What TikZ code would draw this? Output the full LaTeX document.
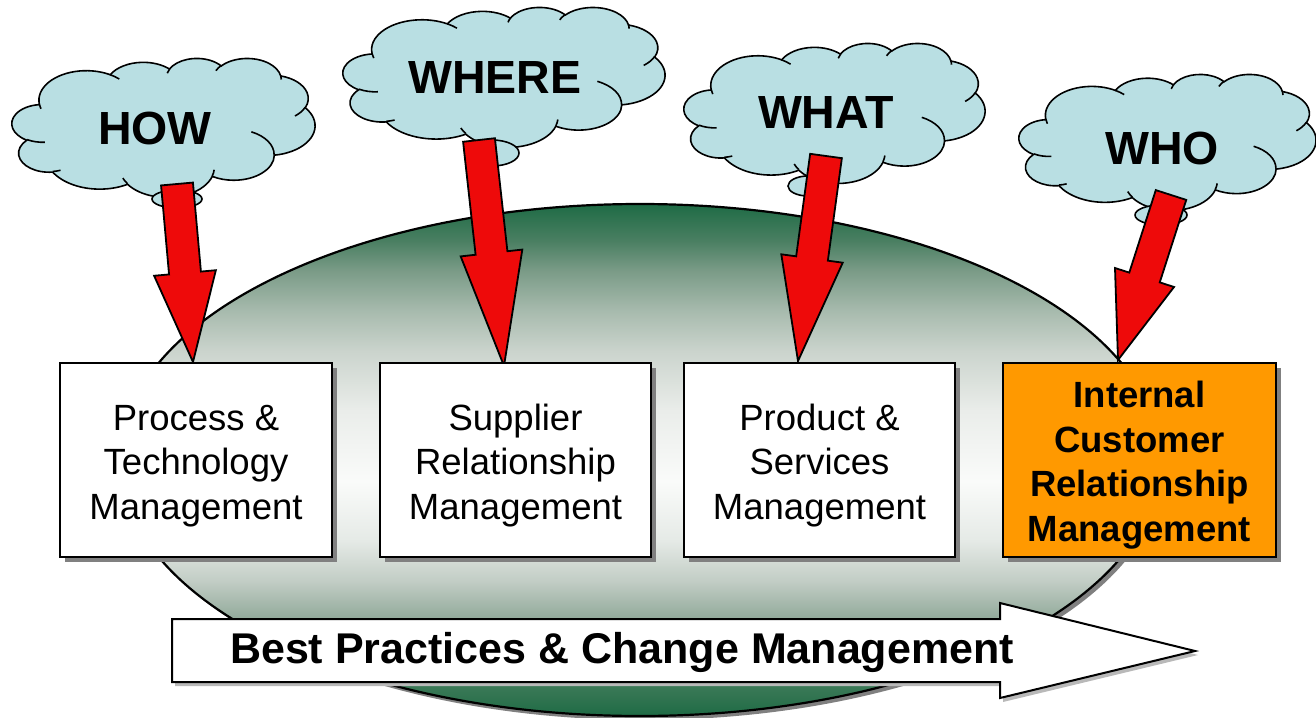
\documentclass[tikz,border=0pt]{standalone}
\usepackage{fontspec}
\setmainfont{Liberation Sans}
\usetikzlibrary{calc,shadows}

\definecolor{cloudblue}{HTML}{B9DFE3}
\definecolor{arrowred}{HTML}{EE0A0A}
\definecolor{boxorange}{HTML}{FF9900}
\definecolor{shadowgray}{HTML}{808080}
% stops of the oval's vertical gradient, bottom to top
\definecolor{ovA}{HTML}{1E6B45}
\definecolor{ovB}{HTML}{4A8060}
\definecolor{ovC}{HTML}{8FA898}
\definecolor{ovD}{HTML}{C2CDC5}
\definecolor{ovE}{HTML}{E5EAE6}
\definecolor{ovF}{HTML}{FAFBFA}
\definecolor{ovG}{HTML}{EAEDEA}
\definecolor{ovH}{HTML}{CBD4CD}
\definecolor{ovI}{HTML}{A8BBAE}
\definecolor{ovJ}{HTML}{7A9B87}
\definecolor{ovK}{HTML}{4A7F62}

\pgfdeclareverticalshading{ovalshade}{100bp}{%
  color(0bp)=(ovA); color(25bp)=(ovA); color(29.4bp)=(ovB);
  color(34.3bp)=(ovC); color(38.2bp)=(ovD); color(42.1bp)=(ovE);
  color(47.9bp)=(ovF); color(54.8bp)=(ovG); color(60.6bp)=(ovH);
  color(64.5bp)=(ovI); color(68.5bp)=(ovJ); color(71.4bp)=(ovK);
  color(75bp)=(ovA); color(100bp)=(ovA)}

\tikzset{
  cloudline/.style={draw=black, line width=1.6pt},
  bubble/.style={draw=black, line width=1.6pt, fill=cloudblue},
  cloudtext/.style={font=\bfseries\fontsize{46.5}{50}\selectfont},
  redarrow/.style={draw=black, line width=1.8pt, fill=arrowred, line join=miter},
  areabox/.style={draw=black, line width=2pt, minimum width=271pt, minimum height=194pt,
    align=center, inner sep=0pt,
    drop shadow={shadow xshift=5pt, shadow yshift=-5pt, fill=shadowgray, opacity=1}},
  plainbox/.style={areabox, fill=white, font=\fontsize{36.5}{44.5}\selectfont},
  keybox/.style={areabox, fill=boxorange, font=\bfseries\fontsize{36.5}{44.5}\selectfont},
  bigarrow/.style={draw=black, line width=2pt, fill=white,
    drop shadow={shadow xshift=3pt, shadow yshift=-4pt, fill=gray!55, opacity=1}},
  bigtext/.style={font=\bfseries\fontsize{43}{48}\selectfont, inner sep=0pt}
}

% elliptical arc given by radii, start angle and sweep as seen from the centre
\newcommand\ooarc[4]{%
  let \n1={atan2((#1)*sin(#3),(#2)*cos(#3))},
      \n2={atan2((#1)*sin((#3)+(#4)),(#2)*cos((#3)+(#4)))},
      \n3={mod(\n2-\n1+720,360)} in
  arc[x radius=#1, y radius=#2, start angle=\n1, delta angle=\n3]}

% cloud outline on a 4320 x 4320 grid, placed in the box left #1, top #2, width #3, height #4
\newcommand\thoughtcloud[4]{%
  \pgfmathsetmacro\cloudxu{#3/4320}%
  \pgfmathsetmacro\cloudyu{-#4/4320}%
  \begin{scope}[shift={(#1,#2)}, x=\cloudxu pt, y=\cloudyu pt]
    \draw[cloudline, fill=cloudblue] (390,1437)
      \ooarc{675.3}{919.0}{-190.4875}{123.7805}
      \ooarc{533.3}{726.7}{-144.1024}{89.9452}
      \ooarc{436.5}{594.5}{-145.8079}{99.7230}
      \ooarc{485.7}{659.5}{-130.9861}{117.2417}
      \ooarc{533.3}{727.3}{-78.7089}{109.0269}
      \ooarc{677.5}{922.0}{-46.2673}{130.2690}
      \ooarc{578.5}{786.7}{0.6250}{114.0333}
      \ooarc{675.2}{921.5}{22.4516}{115.1726}
      \ooarc{772.0}{1054.3}{66.2426}{75.7110}
      \ooarc{436.0}{591.8}{-274.9421}{146.7356}
      \ooarc{434.5}{594.5}{-246.8285}{152.5189}
      -- cycle;
    \draw[cloudline]
      (469.3,2617.7) \ooarc{434.5}{594.5}{86.7420}{26.4295}
      (692.8,3489.9) \ooarc{436.0}{591.8}{73.6105}{11.4475}
      (1647.8,3909.0) \ooarc{675.2}{921.5}{137.6242}{14.0811}
      (2882.7,3475.1) \ooarc{675.2}{921.5}{6.4533}{15.9984}
      (3412.9,2295.4) \ooarc{578.5}{786.7}{-70.2924}{70.9174}
      (4179.8,1535.4) \ooarc{533.3}{727.3}{30.3180}{27.7515}
      (3832.4,542.6) \ooarc{485.7}{659.5}{-13.7443}{14.8589}
      (2907.8,395.2) \ooarc{485.7}{659.5}{-149.1815}{18.1954}
      (2214.1,472.0) \ooarc{436.5}{594.5}{-163.4943}{17.6864}
      (1400.0,519.2) \ooarc{675.3}{919.0}{-66.7070}{12.3194}
      (412.7,1578.9) \ooarc{675.3}{919.0}{157.6544}{11.8582};
  \end{scope}}

% block arrow from tail #1 to tip #2, shaft half width 16pt, head half width 31pt
\newcommand\blockarrow[2]{%
  \draw[redarrow] let \p1=(#1), \p2=(#2),
      \n1={atan2(\y2-\y1,\x2-\x1)}, \n2={veclen(\x2-\x1,\y2-\y1)}, \n3={0.5*\n2} in
    ($(\p1)+(\n1+90:16pt)$)
    -- ($(\p1)+(\n1:{(\n2-\n3)*1pt})+(\n1+90:16pt)$)
    -- ($(\p1)+(\n1:{(\n2-\n3)*1pt})+(\n1+90:31pt)$)
    -- (\p2)
    -- ($(\p1)+(\n1:{(\n2-\n3)*1pt})+(\n1-90:31pt)$)
    -- ($(\p1)+(\n1:{(\n2-\n3)*1pt})+(\n1-90:16pt)$)
    -- ($(\p1)+(\n1-90:16pt)$) -- cycle;}

\begin{document}
\begin{tikzpicture}[x=1pt,y=-1pt]
\useasboundingbox (0,0) rectangle (1316,717);

% green oval with its shadow
\fill[shadowgray] (644,464) ellipse [x radius=520, y radius=256];
\shade[shading=ovalshade, draw=black, line width=2.2pt] (640,460) ellipse [x radius=520, y radius=256];

% clouds with their small bubbles
\thoughtcloud{12}{58}{303}{139}
\thoughtcloud{343}{7}{322}{140}
\thoughtcloud{684}{43}{301}{140}
\thoughtcloud{1019}{74}{297}{136}

\draw[bubble] (177,199) ellipse [x radius=25, y radius=9];
\draw[bubble] (492,153) ellipse [x radius=27, y radius=13];
\draw[bubble] (808,186) ellipse [x radius=20, y radius=10];
\draw[bubble] (1161,215) ellipse [x radius=26, y radius=10];

\node[cloudtext] (howText) at (155,128) {HOW};
\node[cloudtext] (whereText) at (495,78) {WHERE};
\node[cloudtext] (whatText) at (826,113) {WHAT};
\node[cloudtext] (whoText) at (1162,148) {WHO};

% arrow ends
\coordinate (howTail) at (177,184);
\coordinate (howTip) at (193,362);
\coordinate (whereTail) at (479,140);
\coordinate (whereTip) at (504,366);
\coordinate (whatTail) at (826,156);
\coordinate (whatTip) at (798,361);
\coordinate (whoTail) at (1171,195);
\coordinate (whoTip) at (1118,360);

\blockarrow{howTail}{howTip}
\blockarrow{whereTail}{whereTip}
\blockarrow{whatTail}{whatTip}
\blockarrow{whoTail}{whoTip}

% management areas
\node[plainbox, minimum width=272pt] (ptm) at (196,460)
  {\rule{0pt}{37pt}Process \&\\Technology\\Management};
\node[plainbox] (srm) at (515.5,460)
  {\rule{0pt}{37pt}Supplier\\Relationship\\Management};
\node[plainbox] (psm) at (819.5,460)
  {\rule{0pt}{37pt}Product \&\\Services\\Management};
\node[keybox, minimum width=273pt] (icrm) at (1139.5,460)
  {\rule{0pt}{37pt}Internal\\Customer\\Relationship\\Management};

% best practices arrow
\draw[bigarrow] (172,619) -- (1000,619) -- (1000,603) -- (1195,651)
  -- (1000,698) -- (1000,682) -- (172,682) -- cycle;
\node[bigtext] (bpText) at (622,652) {Best Practices \& Change Management};
\end{tikzpicture}
\end{document}
